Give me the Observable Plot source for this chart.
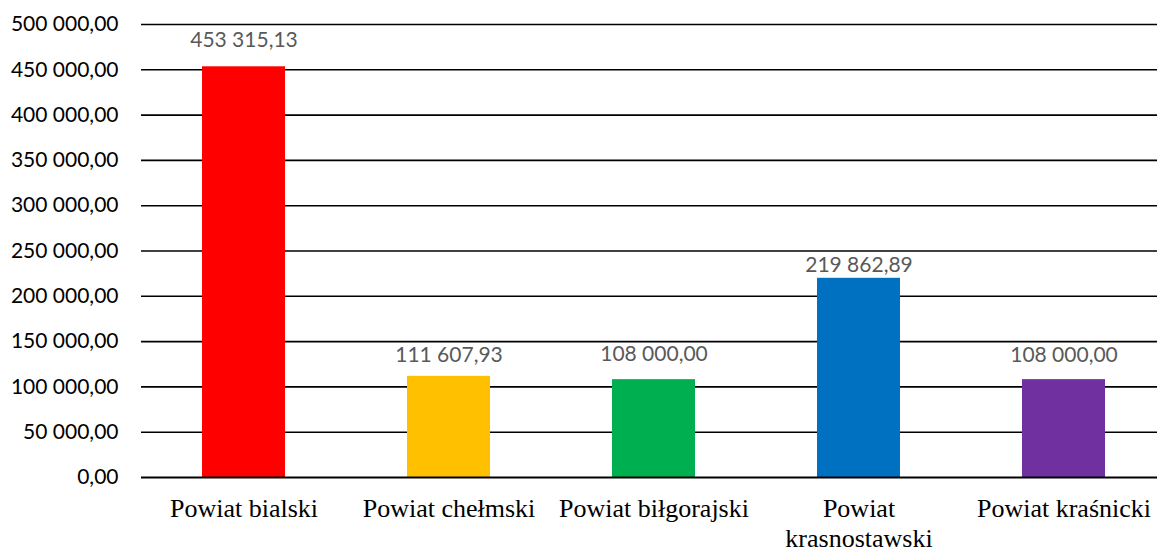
<!DOCTYPE html>
<html>
<head>
<meta charset="utf-8">
<script src="https://cdn.jsdelivr.net/npm/d3@7"></script>
<script src="https://cdn.jsdelivr.net/npm/@observablehq/plot@0.6"></script>
<style>
  html, body { margin: 0; padding: 0; background: #fff; }
  #chart svg { display: block; }
</style>
</head>
<body>
<div id="chart"></div>
<script>
const categories = ["Powiat bialski", "Powiat chełmski", "Powiat biłgorajski", "Powiat krasnostawski", "Powiat kraśnicki"];
const values = [453315.13, 111607.93, 108000.00, 219862.89, 108000.00];
const yTicks = [0, 50000, 100000, 150000, 200000, 250000, 300000, 350000, 400000, 450000, 500000];
const tickLabels = {"Powiat krasnostawski": "Powiat\nkrasnostawski"};

// styling (not data)
const barColors = ["#FF0000", "#FFC000", "#00B050", "#0070C0", "#7030A0"];
const labelGapPx = [20, 14, 19, 6, 18];

const data = categories.map((c, i) => ({category: c, value: values[i], i}));
const fmt = v => d3.format(",.2f")(v).replace(/,/g, " ").replace(".", ",");

const numFont = "Lato, 'Open Sans', sans-serif";
const plotH = 477 - 24;
const yMax = 500000;

const chart = Plot.plot({
  width: 1157,
  height: 549,
  marginLeft: 141,
  marginRight: 0,
  marginTop: 24,
  marginBottom: 72,
  style: {background: "#fff", color: "#000"},
  x: {type: "band", domain: categories, range: [141, 1166], paddingInner: 0.595, paddingOuter: 0.2975, align: 0.5},
  y: {domain: [0, yMax]},
  color: {domain: categories, range: barColors},
  marks: [
    Plot.ruleY(yTicks.slice(1), {stroke: "#000", strokeWidth: 1.6}),
    Plot.barY(data, {x: "category", y: "value", fill: "category"}),
    Plot.ruleY([0], {stroke: "#000", strokeWidth: 2.2}),
    Plot.axisY({
      ticks: yTicks, tickSize: 0, tickPadding: 23, tickFormat: fmt, line: true,
      strokeWidth: 2.2, stroke: "#000",
      fontSize: 21, fontFamily: numFont, fill: "#000", label: null
    }),
    Plot.axisX({
      tickSize: 0, tickPadding: 18, tickFormat: d => tickLabels[d] ?? d,
      fontSize: 26, fontFamily: "'Liberation Serif', 'Times New Roman', serif",
      lineHeight: 1.15, fill: "#000", label: null
    }),
    Plot.text(data, {
      x: "category",
      y: d => d.value + labelGapPx[d.i] * yMax / plotH,
      text: d => fmt(d.value),
      lineAnchor: "bottom",
      fontSize: 21, fontFamily: numFont, fill: "#595959"
    })
  ]
});
document.getElementById("chart").appendChild(chart);
</script>
</body>
</html>
